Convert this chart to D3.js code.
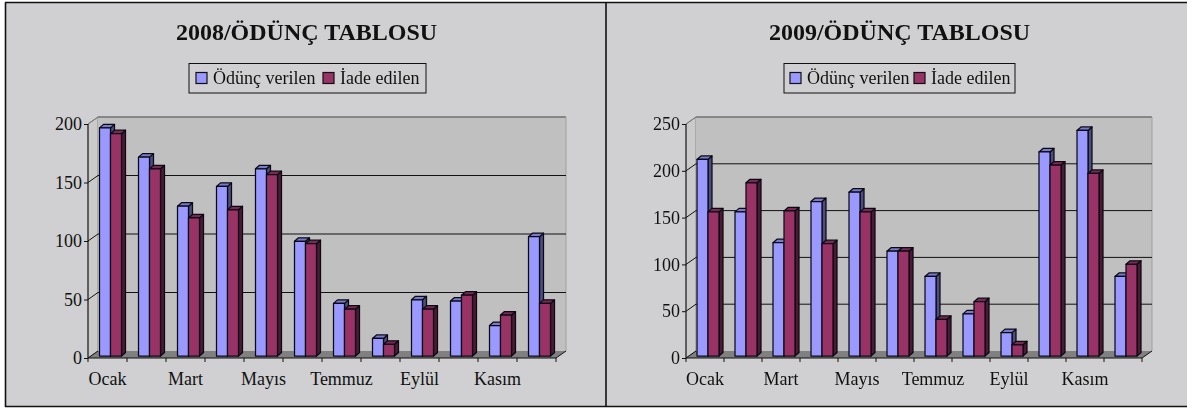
<!DOCTYPE html>
<html><head><meta charset="utf-8">
<script src="https://cdn.jsdelivr.net/npm/d3@7"></script>
<style>
html,body{margin:0;padding:0;background:#fff}
svg{display:block;filter:blur(0.4px)}
text{font-family:"Liberation Serif","Times New Roman",serif;fill:#111}
</style></head><body>
<svg id="c" width="1187" height="410"></svg>
<script>
const months = ["Ocak","Şubat","Mart","Nisan","Mayıs","Haziran","Temmuz","Ağustos","Eylül","Ekim","Kasım","Aralık"];
const shownMonths = ["Ocak","Mart","Mayıs","Temmuz","Eylül","Kasım"];
const seriesNames = ["Ödünç verilen","İade edilen"];
const lent2008 = [195,170,128,145,160,98,45,15,48,47,26,102];
const returned2008 = [190,160,118,125,155,96,40,10,40,52,35,45];
const lent2009 = [210,154,121,165,175,112,85,45,25,218,241,85];
const returned2009 = [154,185,155,120,154,112,39,58,12,204,195,98];
const ticks2008 = [0,50,100,150,200];
const ticks2009 = [0,50,100,150,200,250];

const colors = [
  {front:"#9999ff", side:"#4d4d80", top:"#7a7acc"},
  {front:"#993366", side:"#4d1a33", top:"#7a2952"}
];
const svg = d3.select("#c");
const DX = 10, DY = -7, BDX = 4, BDY = -3.5, BASE = 2;

function panel(o){
  const g = svg.append("g");
  g.append("rect").attr("x",o.px0).attr("y",o.py0).attr("width",o.px1-o.px0).attr("height",o.py1-o.py0)
    .attr("fill","#d0d0d2");
  const x = d3.scaleBand().domain(months).range([o.x0,o.x1]);
  const y = d3.scaleLinear().domain([0,o.max]).range([358,124]);
  const top = y(o.max), bot = y(0);
  // walls and floor
  g.append("polygon").attr("points",[[o.x0,bot],[o.x0+DX,bot+DY],[o.x0+DX,top+DY],[o.x0,top]].join(" "))
    .attr("fill","#cacacb").attr("stroke","#8a8a8a").attr("stroke-width",1);
  g.append("rect").attr("x",o.x0+DX).attr("y",top+DY).attr("width",o.x1-o.x0).attr("height",bot-top)
    .attr("fill","#c0c0c0");
  g.append("line").attr("x1",o.x0+DX).attr("x2",o.x1+DX).attr("y1",top+DY).attr("y2",top+DY)
    .attr("stroke","#707070").attr("stroke-width",1.6);
  g.append("line").attr("x1",o.x1+DX).attr("x2",o.x1+DX).attr("y1",top+DY).attr("y2",bot+DY)
    .attr("stroke","#a0a0a0");
  g.append("polygon").attr("points",[[o.x0,bot],[o.x0+DX,bot+DY],[o.x1+DX,bot+DY],[o.x1,bot]].join(" "))
    .attr("fill","#808080");
  // grid
  g.selectAll(".grid").data(o.ticks.filter(d=>d>0&&d<o.max)).join("line")
    .attr("x1",o.x0+DX).attr("x2",o.x1+DX).attr("y1",d=>y(d)+DY).attr("y2",d=>y(d)+DY)
    .attr("stroke","#111").attr("stroke-width",1);
  // diagonal wall ticks
  g.selectAll(".diag").data(o.ticks).join("line")
    .attr("x1",o.x0).attr("x2",o.x0+DX).attr("y1",d=>y(d)).attr("y2",d=>y(d)+DY)
    .attr("stroke",d=>d===o.max?"#777":"#111").attr("stroke-width",1);
  g.append("line").attr("x1",o.x1).attr("x2",o.x1+DX).attr("y1",bot).attr("y2",bot+DY).attr("stroke","#111");
  // bars
  const values = [o.lent,o.returned];
  months.forEach((m,i)=>{
    values.forEach((arr,s)=>{
      const v = arr[i];
      const bx = x(m)+o.barOff+s*o.barW, w = o.barW;
      const yt = y(v)-BASE, yb = bot-BASE;
      const c = colors[s];
      const b = g.append("g").attr("stroke","#0a0a14").attr("stroke-width",1.25).attr("stroke-linejoin","round");
      b.append("polygon").attr("points",[[bx+w,yt],[bx+w+BDX,yt+BDY],[bx+w+BDX,yb+BDY],[bx+w,yb]].join(" ")).attr("fill",c.side);
      b.append("polygon").attr("points",[[bx,yt],[bx+BDX,yt+BDY],[bx+w+BDX,yt+BDY],[bx+w,yt]].join(" ")).attr("fill",c.top);
      b.append("rect").attr("x",bx).attr("y",yt).attr("width",w).attr("height",yb-yt).attr("fill",c.front);
    });
  });
  // axes
  const ya = g.append("g").attr("transform",`translate(${o.x0},0)`)
    .call(d3.axisLeft(y).tickValues(o.ticks).tickSize(4).tickPadding(2));
  ya.selectAll("path,line").attr("stroke","#111");
  ya.select(".domain").attr("d",`M0,${top}V${bot}`);
  ya.selectAll("text").attr("font-size",18).attr("font-family","Liberation Serif").attr("fill","#111");
  const xa = g.append("g").attr("transform",`translate(0,${bot})`)
    .call(d3.axisBottom(x).tickValues(shownMonths).tickSize(0).tickPadding(14));
  xa.select(".domain").attr("d",`M${o.x0},0H${o.x1}`).attr("stroke","#111").attr("stroke-width",1.2);
  xa.selectAll("text").attr("font-size",18).attr("font-family","Liberation Serif").attr("fill","#111");
  xa.selectAll(".tick line").remove();
  g.selectAll(".xt").data(months.concat("")).join("line")
    .attr("x1",(d,i)=>i<12?x(d):o.x1).attr("x2",(d,i)=>i<12?x(d):o.x1).attr("y1",bot).attr("y2",bot+4)
    .attr("stroke","#111");
  // title
  g.append("text").attr("x",o.tx).attr("y",39.5).attr("text-anchor","middle")
    .attr("font-size",24).attr("font-weight","bold").attr("fill","#000").text(o.title);
  // legend
  g.append("rect").attr("x",o.lx).attr("y",63.5).attr("width",o.lw).attr("height",29.5)
    .attr("fill","none").attr("stroke","#111").attr("stroke-width",1);
  seriesNames.forEach((n,s)=>{
    g.append("rect").attr("x",o.lx+o.sw[s]).attr("y",72.5).attr("width",11).attr("height",11)
      .attr("fill",colors[s].front).attr("stroke","#111").attr("stroke-width",1.2);
    g.append("text").attr("x",o.lx+o.sw[s]+17).attr("y",84).attr("font-size",18).text(n);
  });
}

panel({px0:6,px1:606,py0:3,py1:406.5,x0:88,x1:556,max:200,ticks:ticks2008,lent:lent2008,returned:returned2008,
  barOff:11.5,barW:11,tx:306.5,title:"2008/ÖDÜNÇ TABLOSU",lx:189,lw:237,sw:[7,134]});
panel({px0:606,px1:1187,py0:3,py1:406.5,x0:686,x1:1142,max:250,ticks:ticks2009,lent:lent2009,returned:returned2009,
  barOff:11,barW:11,tx:899.5,title:"2009/ÖDÜNÇ TABLOSU",lx:784,lw:231,sw:[6,130]});

// outer frame
const fr = [[5.5,2.5,5.5,407],[5,2.5,1187,2.5],[5,406.5,1187,406.5],[606,2.5,606,407]];
svg.selectAll(".fr").data(fr).join("line")
  .attr("x1",d=>d[0]).attr("y1",d=>d[1]).attr("x2",d=>d[2]).attr("y2",d=>d[3])
  .attr("stroke","#111").attr("stroke-width",1.6);
</script>
</body></html>
